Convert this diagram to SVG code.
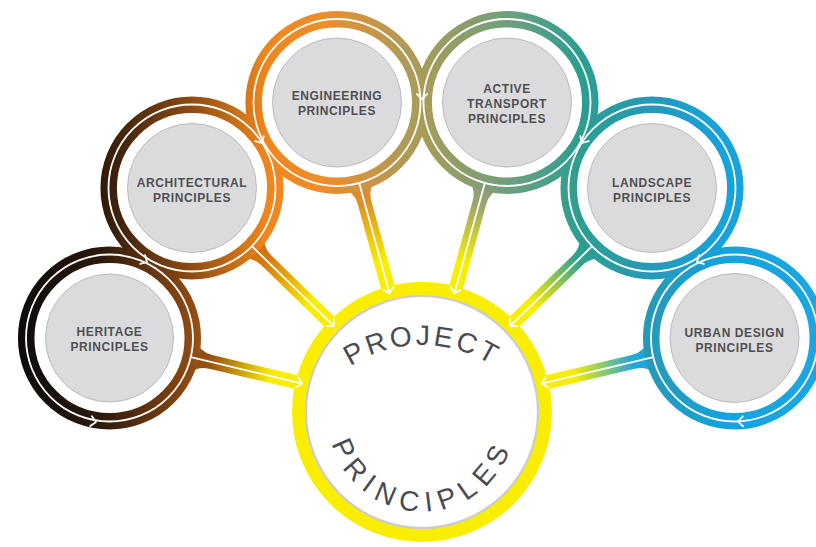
<svg xmlns="http://www.w3.org/2000/svg" width="816" height="547" viewBox="0 0 816 547">
  <defs>
    <!-- colour sweep across the outer rings: black to brown, orange, olive, teal, blue -->
    <linearGradient id="ringGrad" gradientUnits="userSpaceOnUse" x1="18" y1="0" x2="826" y2="0">
      <stop offset="0" stop-color="#0b0b0b"/>
      <stop offset="0.101" stop-color="#2b190c"/>
      <stop offset="0.213" stop-color="#8c4a12"/>
      <stop offset="0.306" stop-color="#ef861c"/>
      <stop offset="0.374" stop-color="#ee8d2a"/>
      <stop offset="0.473" stop-color="#b39a55"/>
      <stop offset="0.510" stop-color="#a39c5c"/>
      <stop offset="0.609" stop-color="#6e9f80"/>
      <stop offset="0.696" stop-color="#2b9e90"/>
      <stop offset="0.782" stop-color="#2699b8"/>
      <stop offset="0.869" stop-color="#17a2db"/>
      <stop offset="1" stop-color="#1aa7e3"/>
    </linearGradient>
    <!-- spoke gradients, in each spoke's local frame (x runs toward the hub) -->
    <linearGradient id="gH" gradientUnits="userSpaceOnUse" x1="88" y1="0" x2="200" y2="0">
      <stop offset="0" stop-color="#8e4c12"/><stop offset="0.15" stop-color="#9a5412"/>
      <stop offset="0.7" stop-color="#f9ee00"/><stop offset="1" stop-color="#f9ee00"/>
    </linearGradient>
    <linearGradient id="gA" gradientUnits="userSpaceOnUse" x1="88" y1="0" x2="200" y2="0">
      <stop offset="0" stop-color="#d0700f"/><stop offset="0.15" stop-color="#d8780f"/>
      <stop offset="0.7" stop-color="#f9ee00"/><stop offset="1" stop-color="#f9ee00"/>
    </linearGradient>
    <linearGradient id="gE" gradientUnits="userSpaceOnUse" x1="88" y1="0" x2="200" y2="0">
      <stop offset="0" stop-color="#d88a30"/><stop offset="0.15" stop-color="#dc9228"/>
      <stop offset="0.7" stop-color="#f9ee00"/><stop offset="1" stop-color="#f9ee00"/>
    </linearGradient>
    <linearGradient id="gT" gradientUnits="userSpaceOnUse" x1="88" y1="0" x2="200" y2="0">
      <stop offset="0" stop-color="#8f9c7a"/><stop offset="0.15" stop-color="#98a470"/>
      <stop offset="0.7" stop-color="#f9ee00"/><stop offset="1" stop-color="#f9ee00"/>
    </linearGradient>
    <linearGradient id="gL" gradientUnits="userSpaceOnUse" x1="88" y1="0" x2="200" y2="0">
      <stop offset="0" stop-color="#2a9f98"/><stop offset="0.15" stop-color="#33a38e"/>
      <stop offset="0.7" stop-color="#f9ee00"/><stop offset="1" stop-color="#f9ee00"/>
    </linearGradient>
    <linearGradient id="gU" gradientUnits="userSpaceOnUse" x1="88" y1="0" x2="200" y2="0">
      <stop offset="0" stop-color="#1ea6dc"/><stop offset="0.15" stop-color="#22a8d6"/>
      <stop offset="0.7" stop-color="#f9ee00"/><stop offset="1" stop-color="#f9ee00"/>
    </linearGradient>

    <!-- spoke band with a fillet where it leaves the ring -->
    <path id="spokeBand" d="M84,-19 Q90,-7 104,-7 L204,-7 L204,7 L104,7 Q90,7 84,19 Z"/>
    <!-- open chevron pointing along +x -->
    <path id="chev" d="M-5,-5 L0,0 L-5,5"/>

    <!-- baselines for the hub title -->
    <path id="arcTop" d="M298.9,431.2 A131,131 0 0 1 545.1,431.2"/>
    <path id="arcBottom" d="M328.5,418 A93.5,93.5 0 0 0 515.5,418"/>

    <style>
      .ring { fill: none; stroke: url(#ringGrad); stroke-width: 16.5; }
      .flow { fill: none; stroke: #ffffff; stroke-width: 1.8; }
      .chev { fill: none; stroke: #ffffff; stroke-width: 1.8; stroke-linecap: round; stroke-linejoin: round; }
      .disc { fill: #dbdbde; stroke: #b9b9c2; stroke-width: 1; }
      .label { font-family: "Liberation Sans", Arial, sans-serif; font-weight: bold; font-size: 12px; fill: #4f4f52; text-anchor: middle; letter-spacing: 0.6px; }
      .title { font-family: "Liberation Sans", Arial, sans-serif; font-size: 28px; fill: #4a4a52; }
    </style>
  </defs>

  <rect width="816" height="547" fill="#ffffff"/>

  <!-- connectors: spokes from each principle ring into the hub -->
  <g id="connectors">
    <g transform="translate(109.5,338) rotate(13.3)">
      <use href="#spokeBand" fill="url(#gH)"/>
    </g>
    <g transform="translate(192,188) rotate(44.2)">
      <use href="#spokeBand" fill="url(#gA)"/>
    </g>
    <g transform="translate(337,102.5) rotate(74.6)">
      <use href="#spokeBand" fill="url(#gE)"/>
    </g>
    <g transform="translate(507,102.5) rotate(105.4)">
      <use href="#spokeBand" fill="url(#gT)"/>
    </g>
    <g transform="translate(652,188) rotate(135.8)">
      <use href="#spokeBand" fill="url(#gL)"/>
    </g>
    <g transform="translate(734.5,338) rotate(166.7)">
      <use href="#spokeBand" fill="url(#gU)"/>
    </g>
  </g>

  <!-- coloured rings of the six principles -->
  <g id="rings">
    <circle class="ring" cx="109.5" cy="338" r="83.3"/>
    <circle class="ring" cx="192" cy="188" r="83.3"/>
    <circle class="ring" cx="337" cy="102.5" r="83.3"/>
    <circle class="ring" cx="507" cy="102.5" r="83.3"/>
    <circle class="ring" cx="652" cy="188" r="83.3"/>
    <circle class="ring" cx="734.5" cy="338" r="83.3"/>
  </g>

  <!-- hub -->
  <g id="hub">
    <circle cx="422" cy="412" r="123" fill="none" stroke="#f9ee00" stroke-width="14"/>
    <circle cx="422" cy="412" r="116" fill="#ffffff" stroke="#cbcbd3" stroke-width="2.2"/>
  </g>

  <!-- white flow lines and chevrons -->
  <g id="flow">
    <circle class="flow" cx="109.5" cy="338" r="83.5"/>
    <circle class="flow" cx="192" cy="188" r="83.5"/>
    <circle class="flow" cx="337" cy="102.5" r="83.5"/>
    <circle class="flow" cx="507" cy="102.5" r="83.5"/>
    <circle class="flow" cx="652" cy="188" r="83.5"/>
    <circle class="flow" cx="734.5" cy="338" r="83.5"/>

    <g transform="translate(109.5,338) rotate(13.3)">
      <line class="flow" x1="83.5" y1="0" x2="198" y2="0"/>
      <use href="#chev" class="chev" transform="translate(198,0)"/>
    </g>
    <g transform="translate(192,188) rotate(44.2)">
      <line class="flow" x1="83.5" y1="0" x2="198" y2="0"/>
      <use href="#chev" class="chev" transform="translate(198,0)"/>
    </g>
    <g transform="translate(337,102.5) rotate(74.6)">
      <line class="flow" x1="83.5" y1="0" x2="198" y2="0"/>
      <use href="#chev" class="chev" transform="translate(198,0)"/>
    </g>
    <g transform="translate(507,102.5) rotate(105.4)">
      <line class="flow" x1="83.5" y1="0" x2="198" y2="0"/>
      <use href="#chev" class="chev" transform="translate(198,0)"/>
    </g>
    <g transform="translate(652,188) rotate(135.8)">
      <line class="flow" x1="83.5" y1="0" x2="198" y2="0"/>
      <use href="#chev" class="chev" transform="translate(198,0)"/>
    </g>
    <g transform="translate(734.5,338) rotate(166.7)">
      <line class="flow" x1="83.5" y1="0" x2="198" y2="0"/>
      <use href="#chev" class="chev" transform="translate(198,0)"/>
    </g>

    <!-- chevrons where neighbouring rings touch, and at the outer ends -->
    <use href="#chev" class="chev" transform="translate(147,262) rotate(28.8)"/>
    <use href="#chev" class="chev" transform="translate(262,143) rotate(59.5)"/>
    <use href="#chev" class="chev" transform="translate(422,99) rotate(90)"/>
    <use href="#chev" class="chev" transform="translate(582,143) rotate(120.5)"/>
    <use href="#chev" class="chev" transform="translate(697,262) rotate(151.2)"/>
    <use href="#chev" class="chev" transform="translate(96,422) rotate(9.8)"/>
    <use href="#chev" class="chev" transform="translate(738,421.5) rotate(178)"/>
  </g>

  <!-- principle nodes -->
  <g id="heritage">
    <circle class="disc" cx="109.5" cy="338" r="64"/>
    <text class="label" x="109.5" y="336">HERITAGE</text>
    <text class="label" x="109.5" y="351">PRINCIPLES</text>
  </g>
  <g id="architectural">
    <circle class="disc" cx="192" cy="188" r="64.5"/>
    <text class="label" x="192" y="186.5">ARCHITECTURAL</text>
    <text class="label" x="192" y="201.5">PRINCIPLES</text>
  </g>
  <g id="engineering">
    <circle class="disc" cx="337" cy="102.5" r="64.5"/>
    <text class="label" x="337" y="100">ENGINEERING</text>
    <text class="label" x="337" y="115">PRINCIPLES</text>
  </g>
  <g id="active-transport">
    <circle class="disc" cx="507" cy="102.5" r="64.5"/>
    <text class="label" x="507" y="93">ACTIVE</text>
    <text class="label" x="507" y="108">TRANSPORT</text>
    <text class="label" x="507" y="123">PRINCIPLES</text>
  </g>
  <g id="landscape">
    <circle class="disc" cx="652" cy="188" r="64.5"/>
    <text class="label" x="652" y="186.5">LANDSCAPE</text>
    <text class="label" x="652" y="201.5">PRINCIPLES</text>
  </g>
  <g id="urban-design">
    <circle class="disc" cx="734.5" cy="338" r="64.5"/>
    <text class="label" x="734.5" y="336.5">URBAN DESIGN</text>
    <text class="label" x="734.5" y="351.5">PRINCIPLES</text>
  </g>

  <!-- hub title set on arcs -->
  <g id="project-principles">
    <text class="title" letter-spacing="3"><textPath href="#arcTop" startOffset="50%" text-anchor="middle">PROJECT</textPath></text>
    <text class="title" letter-spacing="7.5"><textPath href="#arcBottom" startOffset="50%" text-anchor="middle">PRINCIPLES</textPath></text>
  </g>
</svg>
